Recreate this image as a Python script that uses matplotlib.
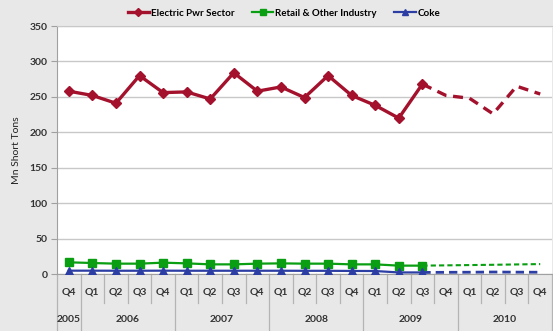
import matplotlib.pyplot as plt
from matplotlib.transforms import blended_transform_factory

plt.rcParams['font.family'] = ['Lato', 'DejaVu Sans']
plt.rcParams['font.weight'] = 'bold'

# quarters Q4 2005 .. Q4 2010
quarters = ["Q4", "Q1", "Q2", "Q3", "Q4", "Q1", "Q2", "Q3", "Q4", "Q1", "Q2",
            "Q3", "Q4", "Q1", "Q2", "Q3", "Q4", "Q1", "Q2", "Q3", "Q4"]
years = ["2005", "2006", "2007", "2008", "2009", "2010"]
year_spans = [(0, 0), (1, 4), (5, 8), (9, 12), (13, 16), (17, 20)]

# actuals through Q3 2009
electric = [258, 252, 241, 280, 256, 257, 247, 284, 258, 264, 249,
            280, 252, 238, 220, 268]
retail = [16.5, 15.5, 14.6, 14.6, 16, 15, 13.6, 13.6, 14.6, 15, 14.6,
          14.6, 13.6, 13.6, 11.8, 11.8]
coke = [4.7, 4.7, 4.6, 4.6, 4.7, 4.6, 4.6, 4.6, 4.6, 4.6, 4.5,
        4.5, 4.3, 4.2, 2.2, 2.2]

# forecast Q3 2009 .. Q4 2010
electric_fc = [268, 252, 248, 226, 265, 254]
retail_fc = [11.8, 12.2, 12.6, 13.0, 13.5, 14.0]
coke_fc = [2.2, 2.4, 2.5, 2.8, 2.6, 2.5]

RED = "#a3112c"
GREEN = "#0a9e12"
BLUE = "#2c3ea3"

fig = plt.figure(figsize=(5.53, 3.31), dpi=100, facecolor="#e8e8e8")
ax = fig.add_axes([57 / 553, 57 / 331, 495 / 553, 248 / 331])
ax.set_facecolor("white")

x_hist = list(range(len(electric)))
x_fc = list(range(len(electric) - 1, len(quarters)))

ax.plot(x_hist, electric, color=RED, lw=2.4, marker="D", ms=5.5,
        label="Electric Pwr Sector", zorder=4)
ax.plot(x_hist, retail, color=GREEN, lw=1.6, marker="s", ms=5.5,
        label="Retail & Other Industry", zorder=3)
ax.plot(x_hist, coke, color=BLUE, lw=1.6, marker="^", ms=5.5,
        label="Coke", zorder=3)

ax.plot(x_fc, electric_fc, color=RED, lw=2.4, ls=(0, (3, 2)), zorder=4)
ax.plot(x_fc, retail_fc, color=GREEN, lw=1.5, ls=(0, (2.5, 1.5)), zorder=3)
ax.plot(x_fc, coke_fc, color=BLUE, lw=2.0, ls=(0, (3, 1.8)), zorder=3)

ax.set_ylim(0, 350)
ax.set_yticks(range(0, 351, 50))
ax.set_xlim(-0.5, len(quarters) - 0.5)
ax.set_xticks([])
ax.grid(axis="y", color="#c8c8c8", lw=1)
ax.set_axisbelow(True)
ax.spines["right"].set_visible(False)
ax.spines["top"].set_color("#c8c8c8")
ax.spines["left"].set_color("#a0a0a0")
ax.spines["bottom"].set_color("#a0a0a0")
ax.tick_params(axis="y", length=4, color="#a0a0a0", labelsize=7.5,
               labelcolor="#333333", pad=3)
ax.set_ylabel("Mn Short Tons", fontsize=7.5, color="#222222", labelpad=6)

# two-level category axis
trans = blended_transform_factory(ax.transData, ax.transAxes)
for i, q in enumerate(quarters):
    ax.text(i, -0.073, q, transform=trans, ha="center", va="center",
            fontsize=7.5, color="#333333")
year_edges = [s - 0.5 for s, e in year_spans] + [year_spans[-1][1] + 0.5]
for i in range(len(quarters) + 1):
    xb = i - 0.5
    y_end = -0.235 if xb in year_edges else -0.118
    ax.plot([xb, xb], [0, y_end], transform=trans, color="#b4b4b4",
            lw=0.9, clip_on=False)
for yr, (s, e) in zip(years, year_spans):
    ax.text((s + e) / 2, -0.185, yr, transform=trans, ha="center",
            va="center", fontsize=7.5, color="#333333")

fig.legend(loc="center", bbox_to_anchor=(284 / 553, 1 - 13 / 331), ncol=3,
           frameon=False, fontsize=7, handlelength=2.2, handletextpad=0.2,
           columnspacing=1.8, markerscale=0.7)

fig.savefig("out.png", dpi=100, facecolor=fig.get_facecolor())
